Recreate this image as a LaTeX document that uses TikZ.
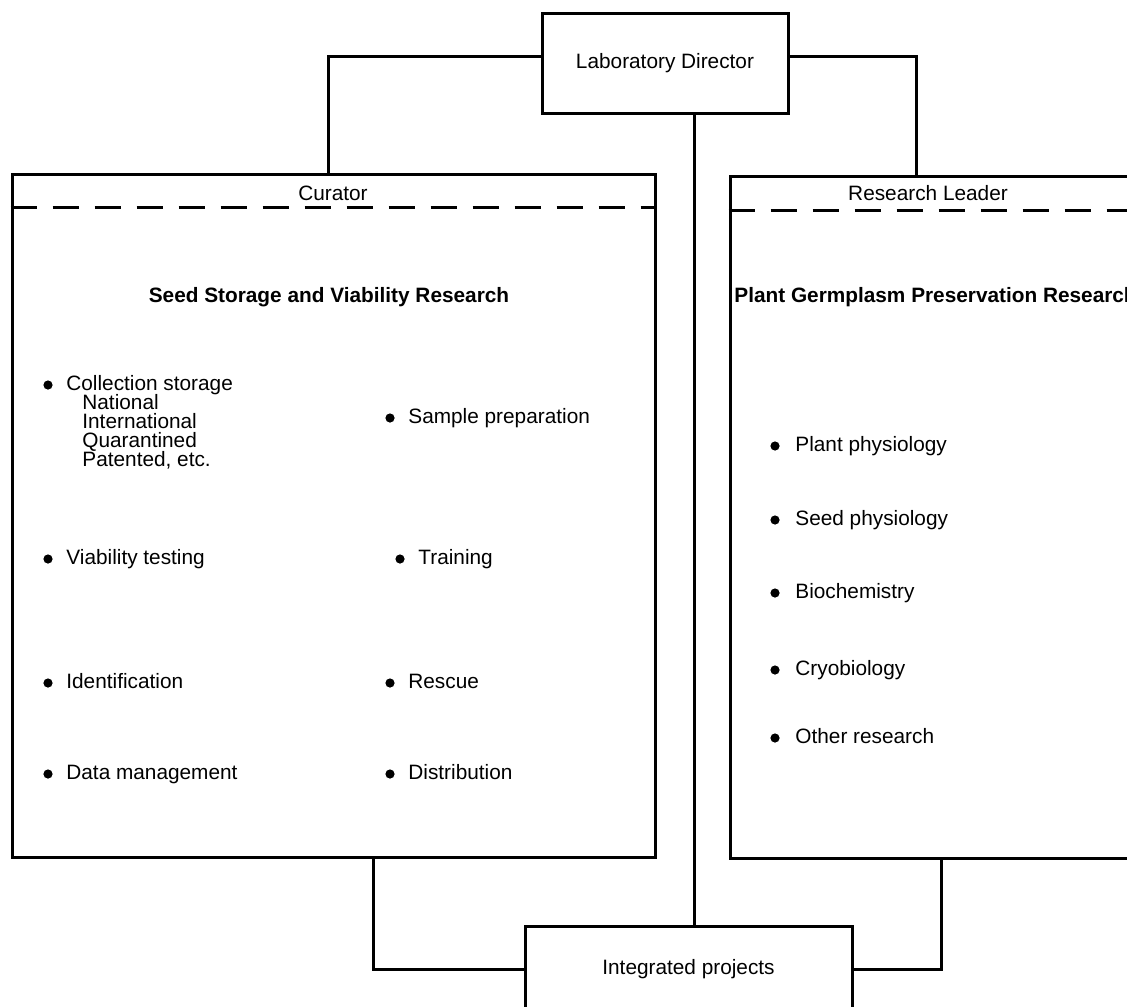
\documentclass[tikz,border=0pt]{standalone}
\usepackage{fontspec}
\setmainfont{Liberation Sans}
\usetikzlibrary{positioning}
\tikzset{
  box/.style={draw,line width=1.5pt,inner sep=0pt,
    font=\fontsize{10.4}{12}\selectfont},
  link/.style={line width=1.5pt},
  sep/.style={line width=1.3pt,dash pattern=on 13pt off 8pt},
  item/.style={anchor=west,inner sep=0pt,text height=7.5pt,text depth=2pt,
    font=\fontsize{10.4}{12}\selectfont},
  head/.style={inner sep=0pt,font=\fontsize{10.4}{12}\selectfont},
  title/.style={inner sep=0pt,font=\bfseries\fontsize{10.4}{12}\selectfont},
}

\begin{document}
\begin{tikzpicture}[x=0.5pt,y=-0.5pt]
  \clip (0,0) rectangle (1127,1006);
  % boxes
  \node[box,minimum width=123pt,minimum height=49.5pt] (dir) at (665,63.5)
    {Laboratory Director};
  \node[box,minimum width=321.5pt,minimum height=341.5pt] (cur) at (333.5,515.5) {};
  \node[box,minimum width=205pt,minimum height=341pt] (res) at (935,517) {};
  \node[box,minimum width=163.5pt,minimum height=43pt] (int) at (688.5,969)
    {Integrated projects};
  % header rules
  \draw[sep] ([yshift=-17.5pt]cur.north west) -- ([yshift=-17.5pt]cur.north east);
  \draw[sep] ([yshift=-18pt]res.north west) -- ([yshift=-18pt]res.north east);
  % connectors
  \draw[link] ([yshift=3.25pt]dir.west) -| ([xshift=-2.75pt]cur.north);
  \draw[link] ([yshift=3.25pt]dir.east) -| ([xshift=-9.5pt]res.north);
  \draw[link] ([xshift=14.5pt]dir.south) -- ([xshift=14.5pt]dir.south |- int.north);
  \draw[link] ([xshift=19.75pt]cur.south) |- (int.west);
  \draw[link] ([xshift=3pt]res.south) |- (int.east);
  % headings
  \node[head] (cura) at (333,193) {Curator};
  \node[head] (lead) at (928,193) {Research Leader};
  \node[title] (seed) at (329,297) {Seed Storage and Viability Research};
  \node[title,anchor=west] (plant) at (734,297)
    {Plant Germplasm Preservation Research};
  % seed storage items
  \foreach \x/\y/\t in {66/385/Collection storage,66/559/Viability testing,
      66/683/Identification,66/774/Data management,
      408/418/Sample preparation,418/559/Training,
      408/683/Rescue,408/774/Distribution}{
    \fill (\x-18,\y) circle (2.3pt);
    \node[item] (s\x\y) at (\x,\y) {\t};
  }
  \foreach \y/\t in {404/National,423/International,442/Quarantined,
      461/{Patented, etc.}}
    \node[item] (c\y) at (82,\y) {\t};
  % preservation items
  \foreach \y/\t in {446/Plant physiology,520/Seed physiology,593/Biochemistry,
      670/Cryobiology,738/Other research}{
    \fill (775,\y) circle (2.3pt);
    \node[item] (p\y) at (795,\y) {\t};
  }
\end{tikzpicture}
\end{document}
